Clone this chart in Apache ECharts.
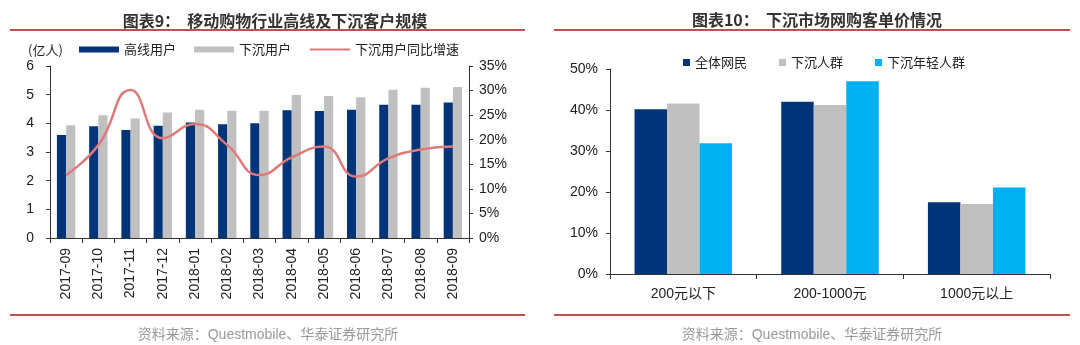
<!DOCTYPE html>
<html>
<head>
<meta charset="utf-8">
<script src="https://cdn.jsdelivr.net/npm/echarts@6/dist/echarts.min.js"></script>
<style>html,body{margin:0;padding:0;background:#fff;}#c{width:1080px;height:345px;}</style>
</head>
<body>
<div id="c"></div>
<script>
// ---- Chart 9 data ----
var months = ['2017-09','2017-10','2017-11','2017-12','2018-01','2018-02','2018-03','2018-04','2018-05','2018-06','2018-07','2018-08','2018-09'];
var highUsers = [3.59,3.90,3.77,3.92,4.03,3.97,4.00,4.46,4.43,4.47,4.65,4.65,4.73];
var sinkUsers = [3.93,4.28,4.17,4.38,4.47,4.44,4.44,4.99,4.95,4.91,5.17,5.24,5.27];
var sinkGrowth = [12.8,18.9,30.1,20.3,23.2,18.9,12.8,16.4,18.6,12.5,16.2,18.0,18.6];
var leftTicks = [0,1,2,3,4,5,6];
var rightTicks = ['0%','5%','10%','15%','20%','25%','30%','35%'];
// ---- Chart 10 data ----
var priceCats = ['200元以下','200-1000元','1000元以上'];
var allNetizens = [40.2,42.0,17.5];
var sinkPeople = [41.6,41.2,17.1];
var sinkYoung = [31.9,47.0,21.1];
var pctTicks = ['0%','10%','20%','30%','40%','50%'];

var FONT = '"Liberation Sans", "Noto Sans CJK SC", sans-serif';
var CJK = '"Noto Sans CJK SC", "Liberation Sans", sans-serif';
var NAVY = '#003478', GRAY = '#C0C0C0', RED = '#E07A7A', CYAN = '#00B0F0', RULE = '#C0504D';

var chart = echarts.init(document.getElementById('c'), null, {renderer: 'canvas'});
var axisLine = {show: true, lineStyle: {color: '#333', width: 1}};
var axisTick = {show: true, length: 4, lineStyle: {color: '#333'}};
var lblStyle = {color: '#222', fontSize: 14, fontFamily: FONT};

chart.setOption({
  animation: false,
  backgroundColor: '#fff',
  textStyle: {fontFamily: FONT},
  title: [
    {text: '图表9：  移动购物行业高线及下沉客户规模', left: 270, top: 8, textAlign: 'center',
     textStyle: {fontSize: 16, fontWeight: 'bold', color: '#333', fontFamily: CJK}},
    {text: '图表10：  下沉市场网购客单价情况', left: 812, top: 7, textAlign: 'center',
     textStyle: {fontSize: 16, fontWeight: 'bold', color: '#333', fontFamily: CJK}}
  ],
  graphic: [
    {type: 'line', shape: {x1: 10, y1: 30, x2: 525, y2: 30}, style: {stroke: RULE, lineWidth: 2}},
    {type: 'line', shape: {x1: 554, y1: 30, x2: 1070, y2: 30}, style: {stroke: RULE, lineWidth: 2}},
    {type: 'line', shape: {x1: 10, y1: 315, x2: 525, y2: 315}, style: {stroke: RULE, lineWidth: 2}},
    {type: 'line', shape: {x1: 554, y1: 315, x2: 1070, y2: 315}, style: {stroke: RULE, lineWidth: 2}},
    {type: 'text', x: 268, y: 335, style: {text: '资料来源：Questmobile、华泰证券研究所', fill: '#999', fontSize: 14, fontFamily: FONT, align: 'center', verticalAlign: 'middle'}},
    {type: 'text', x: 812, y: 335, style: {text: '资料来源：Questmobile、华泰证券研究所', fill: '#999', fontSize: 14, fontFamily: FONT, align: 'center', verticalAlign: 'middle'}},
    {type: 'text', x: 28, y: 50, style: {text: '(亿人)', fill: '#222', fontSize: 13, fontFamily: CJK, align: 'left', verticalAlign: 'middle'}}
  ],
  legend: [
    {left: 74, top: 38, itemWidth: 40, itemHeight: 6, itemGap: 18,
     textStyle: {fontSize: 13, color: '#222', fontFamily: CJK},
     data: [{name: '高线用户', icon: 'rect'}, {name: '下沉用户', icon: 'rect'},
            {name: '下沉用户同比增速', itemStyle: {opacity: 0}}]},
    {left: 678, top: 51, itemWidth: 7, itemHeight: 7, itemGap: 32,
     textStyle: {fontSize: 13, color: '#222', fontFamily: CJK},
     data: [{name: '全体网民', icon: 'rect'}, {name: '下沉人群', icon: 'rect'}, {name: '下沉年轻人群', icon: 'rect'}]}
  ],
  grid: [
    {left: 50, right: 611, top: 66, bottom: 107},
    {left: 610, right: 30, top: 69, bottom: 71}
  ],
  xAxis: [
    {type: 'category', gridIndex: 0, data: months, axisLine: axisLine,
     axisTick: {show: true, length: 5, lineStyle: {color: '#333'}},
     axisLabel: {rotate: 90, margin: 10, color: '#222', fontSize: 14, fontFamily: FONT}},
    {type: 'category', gridIndex: 1, data: priceCats, axisLine: axisLine,
     axisTick: {show: true, length: 5, lineStyle: {color: '#333'}},
     axisLabel: {margin: 13, color: '#222', fontSize: 14, fontFamily: FONT}}
  ],
  yAxis: [
    {type: 'value', gridIndex: 0, min: 0, max: 6, interval: 1, axisLine: axisLine, axisTick: axisTick,
     splitLine: {show: false},
     axisLabel: Object.assign({margin: 16, formatter: function (v) { return String(leftTicks[Math.round(v)]); }}, lblStyle)},
    {type: 'value', gridIndex: 0, position: 'right', min: 0, max: 35, interval: 5, axisLine: axisLine, axisTick: axisTick,
     splitLine: {show: false},
     axisLabel: Object.assign({margin: 10, formatter: function (v) { return rightTicks[Math.round(v / 5)]; }}, lblStyle)},
    {type: 'value', gridIndex: 1, min: 0, max: 50, interval: 10, axisLine: axisLine, axisTick: axisTick,
     splitLine: {show: false},
     axisLabel: Object.assign({margin: 12, formatter: function (v) { return pctTicks[Math.round(v / 10)]; }}, lblStyle)}
  ],
  series: [
    {name: '高线用户', type: 'bar', xAxisIndex: 0, yAxisIndex: 0, data: highUsers,
     itemStyle: {color: NAVY}, barGap: '0%', barCategoryGap: '43%'},
    {name: '下沉用户', type: 'bar', xAxisIndex: 0, yAxisIndex: 0, data: sinkUsers,
     itemStyle: {color: GRAY}, barGap: '0%', barCategoryGap: '43%'},
    {name: '下沉用户同比增速', type: 'line', xAxisIndex: 0, yAxisIndex: 1, data: sinkGrowth,
     smooth: 0.5, symbol: 'none', lineStyle: {color: RED, width: 2.5}, itemStyle: {color: RED}},
    {name: '全体网民', type: 'bar', xAxisIndex: 1, yAxisIndex: 2, data: allNetizens,
     itemStyle: {color: NAVY}, barGap: '0%', barCategoryGap: '33.5%'},
    {name: '下沉人群', type: 'bar', xAxisIndex: 1, yAxisIndex: 2, data: sinkPeople,
     itemStyle: {color: GRAY}, barGap: '0%', barCategoryGap: '33.5%'},
    {name: '下沉年轻人群', type: 'bar', xAxisIndex: 1, yAxisIndex: 2, data: sinkYoung,
     itemStyle: {color: CYAN}, barGap: '0%', barCategoryGap: '33.5%'}
  ]
});
</script>
</body>
</html>
